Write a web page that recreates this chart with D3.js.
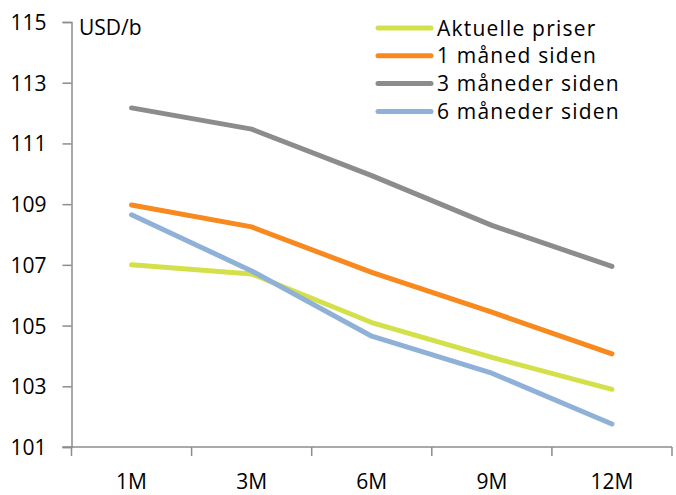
<!DOCTYPE html>
<html>
<head>
<meta charset="utf-8">
<script src="https://cdn.jsdelivr.net/npm/d3@7"></script>
<style>
  html, body { margin: 0; padding: 0; background: #fff; }
  svg text { font-family: "Open Sans", "Liberation Sans", sans-serif; fill: #000; }
</style>
</head>
<body>
<svg id="chart" width="676" height="495"></svg>
<script>
// Forward price curves (USD per barrel) by contract horizon
const categories = ["1M", "3M", "6M", "9M", "12M"];
const seriesNames = ["Aktuelle priser", "1 måned siden", "3 måneder siden", "6 måneder siden"];
const aktuelle = [107.0, 106.7, 105.1, 103.95, 102.9];
const enMaaned = [108.97, 108.25, 106.75, 105.44, 104.07];
const treMaaneder = [112.17, 111.47, 109.94, 108.3, 106.95];
const seksMaaneder = [108.65, 106.8, 104.65, 103.43, 101.76];
const yTicks = [101, 103, 105, 107, 109, 111, 113, 115];
const colors = ["#d4e04a", "#f7891f", "#8c8c8c", "#8fb1d7"];

const series = [aktuelle, enMaaned, treMaaneder, seksMaaneder];
const drawOrder = [2, 1, 0, 3];

const svg = d3.select("#chart");
const margin = { left: 71.5, right: 4, top: 22, bottom: 48 };
const W = 676, H = 495;

const x = d3.scaleBand().domain(categories)
  .range([margin.left, W - margin.right]).paddingInner(0).paddingOuter(0);
const y = d3.scaleLinear().domain([101, 115]).range([H - margin.bottom, margin.top]);

const axisColor = "#8c8c8c";
const fontSize = 21;

// y axis
const yAxis = d3.axisLeft(y).tickValues(yTicks).tickSize(9).tickPadding(16).tickFormat(d3.format("d"));
const gy = svg.append("g").attr("transform", `translate(${margin.left},0)`).call(yAxis);
gy.select(".domain").attr("stroke", axisColor).attr("stroke-width", 1.5);
gy.selectAll(".tick line").attr("stroke", axisColor).attr("stroke-width", 1.5);
gy.selectAll(".tick text").attr("font-size", fontSize).attr("dy", "0.36em");

// x axis: tick marks on band boundaries, labels at band centres
const xAxisG = svg.append("g").attr("transform", `translate(0,${y(101)})`);
xAxisG.append("line")
  .attr("x1", margin.left - 9).attr("x2", W - margin.right)
  .attr("stroke", axisColor).attr("stroke-width", 1.5);
const boundaries = categories.map(c => x(c)).concat([x(categories[categories.length - 1]) + x.bandwidth()]);
xAxisG.selectAll("line.tk").data(boundaries).join("line").attr("class", "tk")
  .attr("x1", d => d).attr("x2", d => d).attr("y1", 0).attr("y2", 9)
  .attr("stroke", axisColor).attr("stroke-width", 1.5);
xAxisG.selectAll("text").data(categories).join("text")
  .attr("x", d => x(d) + x.bandwidth() / 2).attr("y", 41.5)
  .attr("text-anchor", "middle").attr("font-size", fontSize).text(d => d);

// unit label
svg.append("text").attr("x", 79).attr("y", 35).attr("font-size", fontSize).text("USD/b");

// lines
const line = d3.line()
  .x((d, i) => x(categories[i]) + x.bandwidth() / 2)
  .y(d => y(d));

drawOrder.forEach(k => {
  svg.append("path").datum(series[k])
    .attr("d", line).attr("fill", "none")
    .attr("stroke", colors[k]).attr("stroke-width", 5)
    .attr("stroke-linecap", "round").attr("stroke-linejoin", "round");
});

// legend
const lg = svg.append("g");
seriesNames.forEach((name, i) => {
  const yy = 28 + i * 27.8;
  lg.append("line").attr("x1", 378).attr("x2", 431).attr("y1", yy).attr("y2", yy)
    .attr("stroke", colors[i]).attr("stroke-width", 5).attr("stroke-linecap", "round");
  lg.append("text").attr("x", 437).attr("y", yy).attr("dy", "0.36em")
    .attr("font-size", fontSize).attr("letter-spacing", 1.2).text(name);
});
</script>
</body>
</html>
